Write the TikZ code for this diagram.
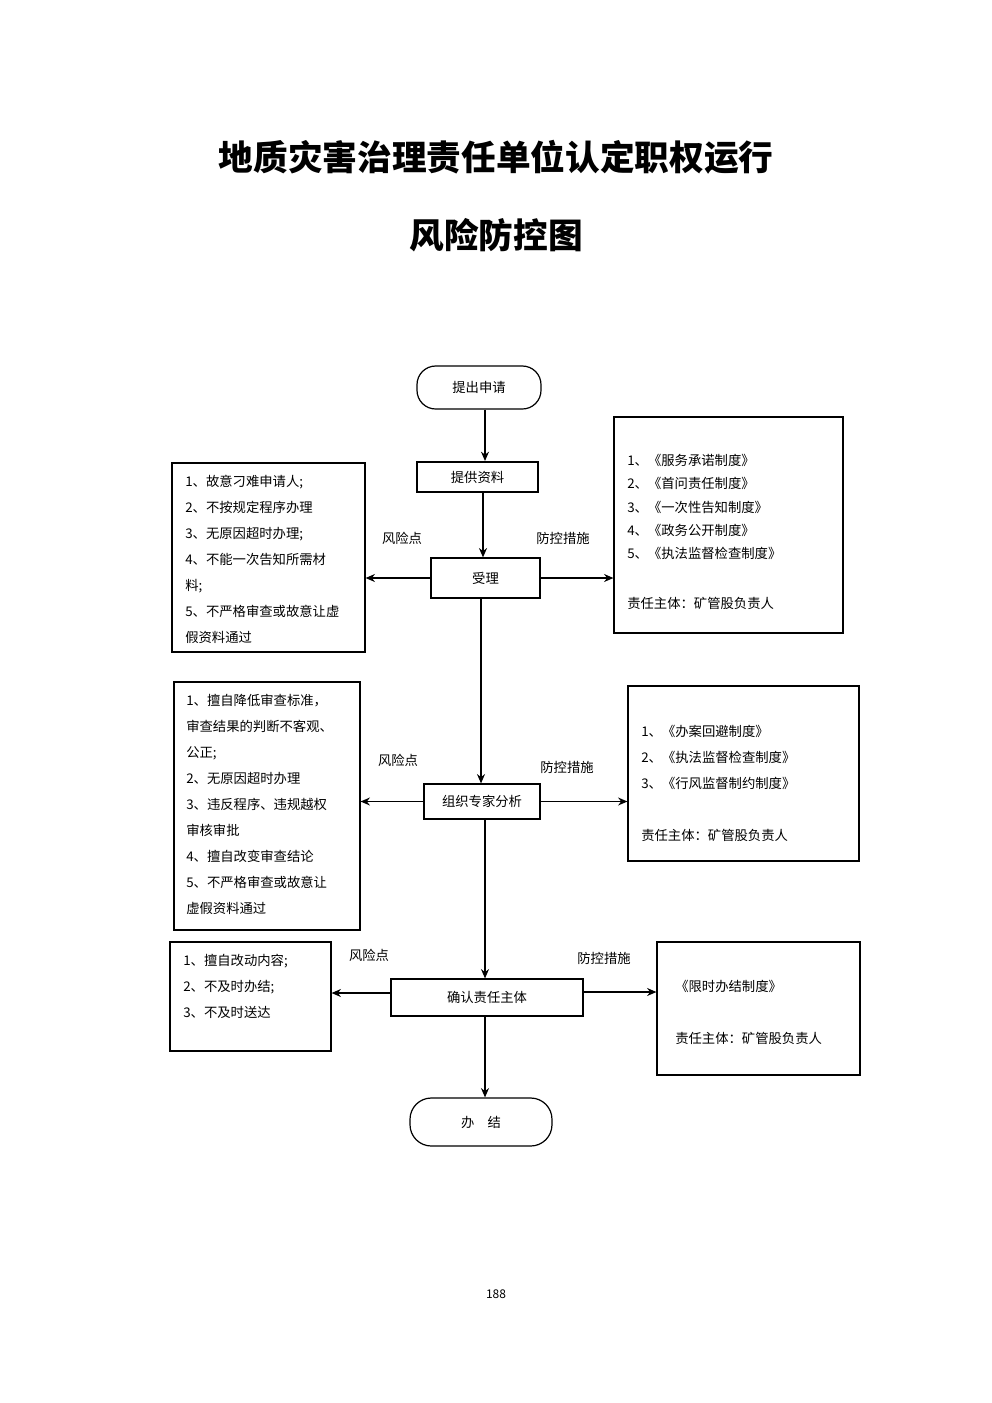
\documentclass[tikz,border=0pt]{standalone}
\usepackage{fontspec}
\setmainfont{Noto Sans CJK SC}
\usetikzlibrary{arrows.meta}
\begin{document}
\begin{tikzpicture}[x=0.75pt,y=-0.75pt,
  box/.style={draw,line width=0.9pt,inner sep=0},
  lbl/.style={font=\fontsize{10}{12}\selectfont},
  txt/.style={anchor=north west,align=left,inner sep=0,font=\fontsize{10}{19.5}\selectfont},
  arr/.style={-{Stealth[length=7pt,width=6pt]},line width=0.9pt}]
\useasboundingbox (0,0) rectangle (992,1403);
\node (t1) at (496,157) {\fontsize{26}{30}\selectfont\bfseries 地质灾害治理责任单位认定职权运行};
\node (t2) at (496,235) {\fontsize{26}{30}\selectfont\bfseries 风险防控图};
% flow nodes
\node[box,rounded corners=14pt,minimum width=124*0.75pt,minimum height=43*0.75pt,lbl] (a) at (479,387.5) {提出申请};
\node[box,line width=1.5pt,minimum width=121*0.75pt,minimum height=30*0.75pt,lbl] (b) at (477.5,477) {提供资料};
\node[box,minimum width=109*0.75pt,minimum height=40*0.75pt,lbl] (c) at (485.5,578) {受理};
\node[box,minimum width=116*0.75pt,minimum height=35*0.75pt,lbl] (d) at (482,801.5) {组织专家分析};
\node[box,minimum width=192*0.75pt,minimum height=37*0.75pt,lbl] (e) at (487,997.5) {确认责任主体};
\node[box,rounded corners=16pt,minimum width=142*0.75pt,minimum height=48*0.75pt,lbl] (f) at (481,1122) {办\quad 结};
% side boxes
\node[box,minimum width=193*0.75pt,minimum height=189*0.75pt] (l1) at (268.5,557.5) {};
\node[box,minimum width=229*0.75pt,minimum height=216*0.75pt] (r1) at (728.5,525) {};
\node[box,minimum width=186*0.75pt,minimum height=248*0.75pt] (l2) at (267,806) {};
\node[box,minimum width=231*0.75pt,minimum height=175*0.75pt] (r2) at (743.5,773.5) {};
\node[box,minimum width=161*0.75pt,minimum height=109*0.75pt] (l3) at (250.5,996.5) {};
\node[box,minimum width=203*0.75pt,minimum height=133*0.75pt] (r3) at (758.5,1008.5) {};
% texts
\node[txt] (tl1) at (185,475) {1、故意刁难申请人;\\2、不按规定程序办理\\3、无原因超时办理;\\4、不能一次告知所需材\\料;\\5、不严格审查或故意让虚\\假资料通过};
\node[txt,font=\fontsize{10}{17.5}\selectfont] (tr1) at (627,454) {1、《服务承诺制度》\\2、《首问责任制度》\\3、《一次性告知制度》\\4、《政务公开制度》\\5、《执法监督检查制度》\\[20pt]责任主体：矿管股负责人};
\node[txt] (tl2) at (186,694) {1、擅自降低审查标准，\\审查结果的判断不客观、\\公正;\\2、无原因超时办理\\3、违反程序、违规越权\\审核审批\\4、擅自改变审查结论\\5、不严格审查或故意让\\虚假资料通过};
\node[txt] (tr2) at (641,725) {1、《办案回避制度》\\2、《执法监督检查制度》\\3、《行风监督制约制度》\\\\责任主体：矿管股负责人};
\node[txt] (tl3) at (183,954) {1、擅自改动内容;\\2、不及时办结;\\3、不及时送达};
\node[txt] (tr3) at (675,980) {《限时办结制度》\\\\责任主体：矿管股负责人};
% labels
\node[lbl] (k1) at (402,538) {风险点};
\node[lbl] (k2) at (563,538) {防控措施};
\node[lbl] (k3) at (398,760) {风险点};
\node[lbl] (k4) at (567,767) {防控措施};
\node[lbl] (k5) at (369,955) {风险点};
\node[lbl] (k6) at (604,958) {防控措施};
\node (pg) at (496,1294) {\fontsize{9}{10}\selectfont 188};
% connectors
\draw[arr] (a.south -| 485,0) -- (b.north -| 485,0);
\draw[arr,line width=1.5pt] (b.south -| 483,0) -- (c.north -| 483,0);
\draw[arr] (c.west) -- (l1.east |- c.west);
\draw[arr] (c.east) -- (r1.west |- c.east);
\draw[arr] (c.south -| 481,0) -- (d.north -| 481,0);
\draw[arr] (d.west) -- (l2.east |- d.west);
\draw[arr] (d.east) -- (r2.west |- d.east);
\draw[arr] (d.south -| 485,0) -- (e.north -| 485,0);
\draw[arr] (e.west |- 0,993) -- (l3.east |- 0,993);
\draw[arr] (e.east |- 0,992) -- (r3.west |- 0,992);
\draw[arr] (e.south -| 485,0) -- (f.north -| 485,0);
\end{tikzpicture}
\end{document}
